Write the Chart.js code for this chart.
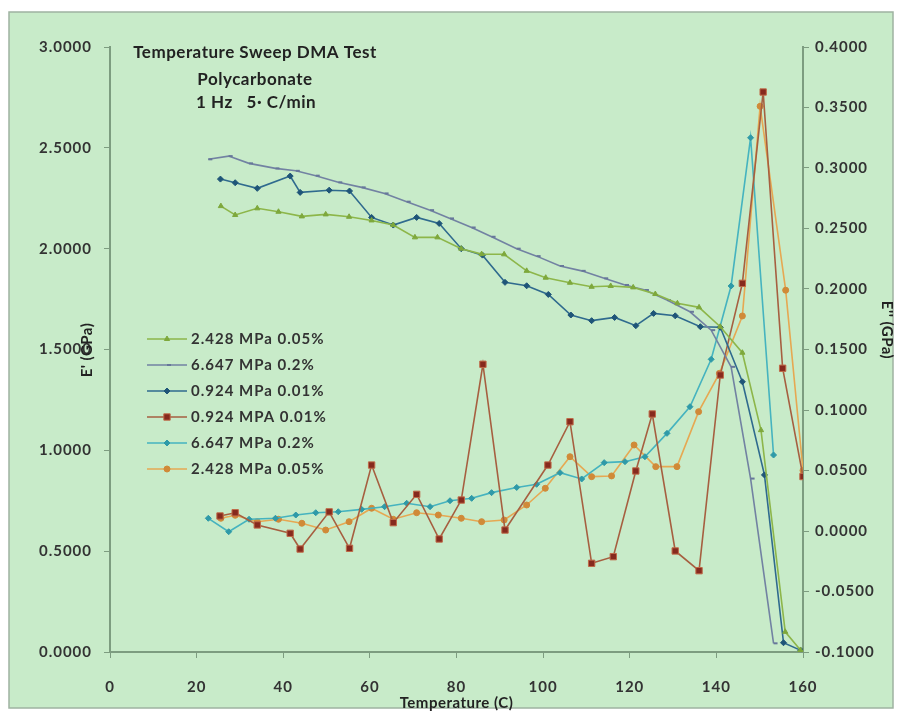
<!DOCTYPE html>
<html>
<head>
<meta charset="utf-8">
<script src="https://cdn.jsdelivr.net/npm/chart.js@4.4.0/dist/chart.umd.min.js"></script>
<style>
  html, body { margin: 0; padding: 0; background: #fff; }
</style>
</head>
<body>
<canvas id="dma" width="901" height="715"></canvas>
<script>
// temperatures (C) and moduli (GPa)
const temp2428 = [25.6, 28.9, 34.0, 38.9, 44.3, 49.8, 55.2, 60.4, 65.4, 70.4, 75.6, 81.1, 85.8, 91.0, 96.2, 100.6, 106.2, 111.2, 115.6, 120.8, 125.9, 131.0, 136.0, 140.9, 146.0, 150.3, 155.9, 159.4];
const eStor2428 = [2.211, 2.167, 2.200, 2.183, 2.160, 2.170, 2.158, 2.140, 2.117, 2.056, 2.056, 2.000, 1.973, 1.972, 1.890, 1.856, 1.831, 1.811, 1.815, 1.808, 1.775, 1.729, 1.709, 1.613, 1.484, 1.100, 0.100, 0.010];
const tempLoss2428 = [25.6, 28.9, 34.0, 38.9, 44.3, 49.8, 55.2, 60.4, 65.4, 70.8, 75.8, 81.1, 85.8, 91.0, 96.2, 100.5, 106.2, 111.2, 115.8, 121.0, 126.0, 130.9, 135.9, 140.7, 146.0, 150.1, 156.0, 160.0];
const eLoss2428 = [0.0105, 0.0130, 0.0077, 0.0097, 0.0064, 0.0008, 0.0077, 0.0188, 0.0097, 0.0151, 0.0132, 0.0105, 0.0077, 0.0091, 0.0215, 0.0353, 0.0614, 0.0449, 0.0455, 0.0711, 0.0532, 0.0532, 0.0986, 0.1303, 0.1777, 0.3510, 0.1990, 0.0500];

const temp6647 = [22.7, 27.4, 32.1, 38.2, 42.9, 47.5, 52.7, 58.1, 63.4, 68.5, 73.9, 78.5, 83.5, 88.1, 93.9, 98.5, 103.9, 108.9, 114.1, 118.9, 123.5, 128.6, 133.9, 138.8, 143.4, 147.9, 153.2];
const eStor6647 = [2.443, 2.459, 2.423, 2.398, 2.386, 2.362, 2.329, 2.304, 2.274, 2.233, 2.191, 2.150, 2.105, 2.059, 2.000, 1.963, 1.914, 1.890, 1.853, 1.820, 1.795, 1.745, 1.687, 1.596, 1.414, 0.860, 0.043];
const eLoss6647 = [0.0105, -0.0006, 0.0097, 0.0105, 0.0132, 0.0151, 0.0159, 0.0179, 0.0201, 0.0229, 0.0201, 0.0250, 0.0270, 0.0317, 0.0360, 0.0386, 0.0482, 0.0430, 0.0565, 0.0573, 0.0614, 0.0807, 0.1027, 0.1419, 0.2025, 0.3250, 0.0628];

const temp0924 = [25.5, 28.9, 34.0, 41.6, 43.9, 50.6, 55.3, 60.4, 65.4, 70.8, 76.0, 81.1, 86.0, 91.2, 96.2, 101.2, 106.4, 111.2, 116.5, 121.4, 125.5, 130.5, 136.3, 140.9, 146.0, 151.1, 155.5, 159.5];
const eStor0924 = [2.345, 2.327, 2.299, 2.360, 2.279, 2.290, 2.286, 2.155, 2.117, 2.155, 2.125, 2.000, 1.968, 1.833, 1.816, 1.773, 1.671, 1.643, 1.659, 1.618, 1.679, 1.667, 1.613, 1.610, 1.340, 0.878, 0.046, 0.008];
const tempLoss0924 = [25.4, 28.9, 34.0, 41.6, 43.9, 50.6, 55.3, 60.4, 65.4, 70.8, 76.0, 81.1, 86.1, 91.2, 101.1, 106.2, 111.2, 116.2, 121.4, 125.2, 130.5, 136.0, 140.9, 146.0, 150.8, 155.3, 160.0];
const eLoss0924 = [0.0124, 0.0151, 0.0050, -0.0019, -0.0149, 0.0158, -0.0143, 0.0545, 0.0069, 0.0303, -0.0066, 0.0256, 0.1378, 0.0008, 0.0545, 0.0903, -0.0267, -0.0212, 0.0496, 0.0967, -0.0165, -0.0328, 0.1289, 0.2047, 0.3628, 0.1345, 0.0450];

const seriesNames = ['2.428 MPa 0.05%', '6.647 MPa 0.2%', '0.924 MPa 0.01%', '0.924 MPA 0.01%', '6.647 MPa 0.2%', '2.428 MPa 0.05%'];
const titleLines = ['Temperature Sweep DMA Test', 'Polycarbonate', '1 Hz   5\u00b7 C/min'];

const pts = (xs, ys) => xs.map((x, i) => ({ x: x, y: ys[i] }));
const FONT = 'Lato, "Open Sans", sans-serif';
const TXT = '#333';
const AXIS = '#7d9c80';

function series(label, xs, ys, axis, line, fill, style, r) {
    return {
        label: label,
        data: pts(xs, ys),
        yAxisID: axis,
        borderColor: line,
        borderWidth: 1.6,
        backgroundColor: fill,
        pointBackgroundColor: fill,
        pointBorderColor: style === 'rect' ? '#c06a48' : fill,
        pointBorderWidth: style === 'dash' ? 2 : 1,
        pointStyle: style,
        pointRadius: r,
        tension: 0,
        fill: false
    };
}

const datasets = [
    series(seriesNames[0], temp2428, eStor2428, 'y', '#8db64a', '#7ea83c', 'triangle', 3),
    series(seriesNames[1], temp6647, eStor6647, 'y', '#7282a2', '#67779a', 'dash', 4),
    series(seriesNames[2], temp0924, eStor0924, 'y', '#2f6a8e', '#1f5578', 'rectRot', 3),
    series(seriesNames[3], tempLoss0924, eLoss0924, 'y2', '#a65f40', '#862a1e', 'rect', 4.5),
    series(seriesNames[4], temp6647, eLoss6647, 'y2', '#45b3bf', '#2f9aa8', 'rectRot', 3),
    series(seriesNames[5], tempLoss2428, eLoss2428, 'y2', '#e6a852', '#d08a38', 'circle', 3)
];

// frame, title block, legend and axis titles
const decor = {
    id: 'decor',
    beforeDraw(chart) {
        const c = chart.ctx;
        c.save();
        c.fillStyle = '#fff';
        c.fillRect(0, 0, chart.width, chart.height);
        c.fillStyle = '#c8ebc9';
        c.fillRect(9, 12, 884, 696);
        c.strokeStyle = '#9fb3a1';
        c.lineWidth = 1.5;
        c.strokeRect(9, 12, 884, 696);
        c.restore();
        // the source text is wide and loose
        c.letterSpacing = '1px';
    },
    afterDraw(chart) {
        const c = chart.ctx;
        const a = chart.chartArea;
        c.save();
        c.fillStyle = '#222';
        c.textBaseline = 'middle';
        c.letterSpacing = '0.5px';
        c.font = 'bold 17px ' + FONT;
        c.textAlign = 'center';
        c.fillText(titleLines[0], 255, 53);
        c.fillText(titleLines[1], 255, 80);
        c.textAlign = 'left';
        c.fillText(titleLines[2], 196, 103);

        // legend
        c.letterSpacing = '1px';
        c.font = 'bold 15px ' + FONT;
        chart.data.datasets.forEach((d, i) => {
            const y = 339 + i * 26;
            c.strokeStyle = d.borderColor;
            c.lineWidth = 1.6;
            c.beginPath();
            c.moveTo(147, y);
            c.lineTo(187, y);
            c.stroke();
            c.fillStyle = d.pointBackgroundColor;
            c.strokeStyle = d.pointBorderColor;
            c.lineWidth = d.pointBorderWidth;
            Chart.helpers.drawPoint(c, { pointStyle: d.pointStyle, radius: d.pointRadius, rotation: 0, borderWidth: d.pointBorderWidth }, 167, y);
            c.fillStyle = TXT;
            c.textAlign = 'left';
            c.fillText(d.label, 191, y);
        });

        // axis titles
        c.letterSpacing = '0.5px';
        c.font = 'bold 15px ' + FONT;
        c.fillStyle = '#222';
        c.textAlign = 'center';
        c.fillText('Temperature (C)', (a.left + a.right) / 2, 703);
        c.save();
        c.translate(87, 350);
        c.rotate(-Math.PI / 2);
        c.fillText("E' (GPa)", 0, 0);
        c.restore();
        c.save();
        c.translate(887, 330);
        c.rotate(Math.PI / 2);
        c.fillText("E'' (GPa)", 0, 0);
        c.restore();
        c.restore();
    }
};

const tickFont = { family: FONT, size: 15, weight: 'bold' };

new Chart(document.getElementById('dma'), {
    type: 'line',
    data: { datasets: datasets },
    options: {
        responsive: false,
        animation: false,
        layout: { padding: { top: 47, left: 0, right: 0, bottom: 0 } },
        plugins: {
            legend: { display: false },
            tooltip: { enabled: false }
        },
        scales: {
            x: {
                type: 'linear',
                min: 0,
                max: 160,
                ticks: { stepSize: 20, font: tickFont, color: TXT, padding: 20 },
                grid: { drawOnChartArea: false, tickLength: 6, color: AXIS },
                border: { color: AXIS, width: 2 },
                afterFit(s) { s.height = 63; }
            },
            y: {
                position: 'left',
                min: 0,
                max: 3,
                ticks: { stepSize: 0.5, font: tickFont, color: TXT, padding: 12, callback: v => v.toFixed(4) },
                grid: { drawOnChartArea: false, tickLength: 6, color: AXIS },
                border: { color: AXIS, width: 2 },
                afterFit(s) { s.width = 110; }
            },
            y2: {
                position: 'right',
                min: -0.1,
                max: 0.4,
                ticks: { stepSize: 0.05, font: tickFont, color: TXT, padding: 6, callback: v => v.toFixed(4) },
                grid: { drawOnChartArea: false, tickLength: 6, color: AXIS },
                border: { color: AXIS, width: 2 },
                afterFit(s) { s.width = 98; }
            }
        }
    },
    plugins: [decor]
});
</script>
</body>
</html>
